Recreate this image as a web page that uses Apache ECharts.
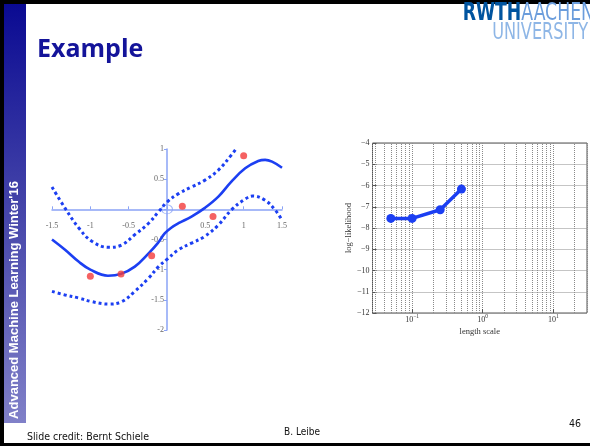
<!DOCTYPE html>
<html>
<head>
<meta charset="utf-8">
<script src="https://cdn.jsdelivr.net/npm/echarts@6/dist/echarts.min.js"></script>
<style>
  html, body { margin: 0; padding: 0; background: #fff; }
  #slide { width: 590px; height: 446px; }
</style>
</head>
<body>
<div id="slide"></div>
<script>
// ---- GP regression (left panel): posterior mean, +/- 2 sigma band, training points ----
const gpMean = [
  [-1.5, -0.50], [-1.33, -0.67], [-1.15, -0.87], [-1.0, -1.00], [-0.77, -1.10],
  [-0.6, -1.07], [-0.42, -0.95], [-0.24, -0.73], [-0.12, -0.56], [-0.03, -0.40],
  [0.06, -0.30], [0.15, -0.23], [0.32, -0.12], [0.49, 0.02], [0.67, 0.21],
  [0.84, 0.46], [1.02, 0.68], [1.19, 0.80], [1.28, 0.82], [1.37, 0.79], [1.5, 0.69]
];
const gpUpper = [
  [-1.5, 0.37], [-1.33, 0.02], [-1.15, -0.31], [-0.98, -0.53], [-0.76, -0.63],
  [-0.59, -0.59], [-0.42, -0.42], [-0.24, -0.23], [-0.11, -0.04], [0.0, 0.12],
  [0.15, 0.26], [0.32, 0.37], [0.49, 0.48], [0.67, 0.65], [0.84, 0.90], [0.9, 1.0]
];
const gpLower = [
  [-1.5, -1.36], [-1.33, -1.42], [-1.15, -1.47], [-0.98, -1.53], [-0.76, -1.57],
  [-0.59, -1.53], [-0.42, -1.36], [-0.24, -1.14], [-0.11, -0.95], [0.0, -0.83],
  [0.15, -0.67], [0.32, -0.56], [0.49, -0.45], [0.67, -0.26], [0.84, -0.01],
  [1.02, 0.17], [1.12, 0.22], [1.28, 0.15], [1.41, -0.01], [1.5, -0.18]
];
const trainPts = [[-1.0, -1.11], [-0.6, -1.07], [-0.2, -0.77], [0.2, 0.05], [0.6, -0.12], [1.0, 0.89]];
const originMark = [[0, 0]];

// ---- Marginal likelihood vs. kernel length scale (right panel) ----
const lengthScales = [0.05, 0.1, 0.25, 0.5];
const logLik = [-7.55, -7.55, -7.14, -6.17];
// intermediate (2..9 x 10^k) grid positions of the log axis
const logMinorGrid = [0.03, 0.04, 0.05, 0.06, 0.07, 0.08, 0.09,
  0.2, 0.3, 0.4, 0.5, 0.6, 0.7, 0.8, 0.9,
  2, 3, 4, 5, 6, 7, 8, 9, 20];

const BLUE = '#1c3ff2';
const AXIS_BLUE = '#8aa3f6';
const SERIF = '"Liberation Serif", "DejaVu Serif", serif';

// left panel geometry and ranges; the axes cross at the origin
const G0 = { left: 52, top: 149, width: 230, height: 181 };
const X0 = [-1.5, 1.5], Y0 = [-2, 1];
const xAxisShift = -G0.height * (0 - Y0[0]) / (Y0[1] - Y0[0]);
const yAxisShift = -G0.width * (0 - X0[0]) / (X0[1] - X0[0]);

const chart = echarts.init(document.getElementById('slide'), null, { renderer: 'canvas' });

function minusSign(v) { return String(v).replace('-', '\u2212'); }
const hideZero = v => (Math.abs(v) < 1e-9 ? '' : String(v));

chart.setOption({
  animation: false,
  backgroundColor: '#ffffff',
  grid: [
    Object.assign({ containLabel: false }, G0),
    { left: 372.5, top: 143, width: 214.5, height: 170, show: true,
      borderColor: '#555', borderWidth: 1, backgroundColor: 'transparent' }
  ],
  xAxis: [
    {
      type: 'value', gridIndex: 0, min: X0[0], max: X0[1], interval: 0.5,
      position: 'bottom', offset: xAxisShift,
      axisLine: { onZero: false, lineStyle: { color: AXIS_BLUE, width: 1.5 } },
      axisTick: { inside: true, length: 3, lineStyle: { color: AXIS_BLUE } },
      splitLine: { show: false },
      axisLabel: { margin: 13, fontFamily: SERIF, fontSize: 8, color: '#666', formatter: hideZero }
    },
    {
      type: 'log', gridIndex: 1, logBase: 10, min: 0.0275, max: 30,
      axisLine: { show: false },
      axisTick: { inside: true, length: 4, lineStyle: { color: '#555' } },
      splitLine: { show: true, lineStyle: { type: 'dotted', color: '#8a8a8a', width: 1 } },
      axisLabel: {
        margin: 1, fontFamily: SERIF, fontSize: 8, color: '#333',
        showMinLabel: false, showMaxLabel: false,
        formatter: v => {
          const e = Math.log10(v);
          if (Math.abs(e - Math.round(e)) > 1e-6) return '';
          return '{b|10}{s|' + minusSign(Math.round(e)) + '}';
        },
        rich: {
          b: { fontFamily: SERIF, fontSize: 8, color: '#333', lineHeight: 11 },
          s: { fontFamily: SERIF, fontSize: 5.5, color: '#333', lineHeight: 6, verticalAlign: 'top' }
        }
      },
      name: 'length scale', nameLocation: 'middle', nameGap: 14,
      nameTextStyle: { fontFamily: SERIF, fontSize: 8.5, color: '#333' }
    }
  ],
  yAxis: [
    {
      type: 'value', gridIndex: 0, min: Y0[0], max: Y0[1], interval: 0.5,
      position: 'left', offset: yAxisShift,
      axisLine: { onZero: false, lineStyle: { color: AXIS_BLUE, width: 1.5 } },
      axisTick: { length: 3, lineStyle: { color: AXIS_BLUE } },
      splitLine: { show: false },
      axisLabel: { margin: 3, fontFamily: SERIF, fontSize: 8, color: '#666', formatter: hideZero }
    },
    {
      type: 'value', gridIndex: 1, min: -12, max: -4, interval: 1,
      axisLine: { show: false },
      axisTick: { inside: true, length: 4, lineStyle: { color: '#555' } },
      splitLine: { show: true, lineStyle: { type: 'dotted', color: '#8a8a8a', width: 1 } },
      axisLabel: { margin: 3, fontFamily: SERIF, fontSize: 8, color: '#333', formatter: v => minusSign(v) },
      name: 'log\u2212likelihood', nameLocation: 'middle', nameGap: 18, nameRotate: 90,
      nameTextStyle: { fontFamily: SERIF, fontSize: 8.5, color: '#333' }
    }
  ],
  series: [
    {
      type: 'line', xAxisIndex: 0, yAxisIndex: 0, data: gpUpper, smooth: 0.4,
      showSymbol: false, lineStyle: { color: BLUE, width: 3, type: [3, 3], cap: 'butt' }, z: 3
    },
    {
      type: 'line', xAxisIndex: 0, yAxisIndex: 0, data: gpLower, smooth: 0.4,
      showSymbol: false, lineStyle: { color: BLUE, width: 3, type: [3, 3], cap: 'butt' }, z: 3
    },
    {
      type: 'line', xAxisIndex: 0, yAxisIndex: 0, data: gpMean, smooth: 0.4,
      showSymbol: false, lineStyle: { color: BLUE, width: 2.6 }, z: 4
    },
    {
      type: 'scatter', xAxisIndex: 0, yAxisIndex: 0, data: trainPts,
      symbol: 'circle', symbolSize: 7, itemStyle: { color: '#f23b3b' }, z: 5
    },
    {
      type: 'scatter', xAxisIndex: 0, yAxisIndex: 0, data: originMark,
      symbol: 'circle', symbolSize: [11, 9],
      itemStyle: { color: 'rgba(255,255,255,0)', borderColor: AXIS_BLUE, borderWidth: 1 }, z: 2
    },
    {
      type: 'line', xAxisIndex: 1, yAxisIndex: 1,
      data: lengthScales.map((x, i) => [x, logLik[i]]),
      symbol: 'circle', symbolSize: 9, showSymbol: true,
      lineStyle: { color: BLUE, width: 3.5 }, itemStyle: { color: BLUE }, z: 5,
      markLine: {
        silent: true, symbol: 'none', label: { show: false }, animation: false,
        lineStyle: { type: 'dotted', color: '#8a8a8a', width: 1 },
        emphasis: { disabled: true },
        data: logMinorGrid.map(v => ({ xAxis: v }))
      }
    }
  ],
  graphic: [
    // slide frame
    { type: 'rect', left: 0, top: 0, shape: { width: 590, height: 4 }, style: { fill: '#000' }, z: 100 },
    { type: 'rect', left: 0, top: 0, shape: { width: 4, height: 446 }, style: { fill: '#000' }, z: 100 },
    { type: 'rect', left: 0, top: 443, shape: { width: 590, height: 3 }, style: { fill: '#000' }, z: 100 },
    {
      type: 'rect', left: 4, top: 4, shape: { width: 22, height: 419 }, z: 99,
      style: {
        fill: new echarts.graphic.LinearGradient(0, 0, 0, 1, [
          { offset: 0, color: '#0a0a92' },
          { offset: 0.5, color: '#4646aa' },
          { offset: 1, color: '#8080c8' }
        ])
      }
    },
    {
      type: 'text', x: 14.5, y: 300, rotation: Math.PI / 2, z: 101,
      style: {
        text: "Advanced Machine Learning Winter'16", fill: '#ffffff',
        font: 'bold 13px "Liberation Sans", Arial, sans-serif',
        align: 'center', verticalAlign: 'middle'
      }
    },
    {
      type: 'text', x: 37, y: 49.5, z: 101,
      style: {
        text: 'Example', fill: '#14149a',
        font: 'bold 25px "Open Sans", "DejaVu Sans", sans-serif',
        align: 'left', verticalAlign: 'middle'
      }
    },
    {
      type: 'text', x: 594, y: 14, z: 101, scaleX: 0.8,
      style: {
        text: '{a|RWTH}{b|AACHEN}', align: 'right', verticalAlign: 'middle',
        rich: {
          a: { font: 'bold 24px "Liberation Sans Narrow", "DejaVu Sans Condensed", sans-serif', fill: '#00549f' },
          b: { font: '24px "Liberation Sans Narrow", "DejaVu Sans Condensed", sans-serif', fill: '#6b9ddc' }
        }
      }
    },
    {
      type: 'text', x: 588, y: 33, z: 101, scaleX: 0.78,
      style: {
        text: 'UNIVERSITY', align: 'right', verticalAlign: 'middle',
        font: '23px "Liberation Sans Narrow", "DejaVu Sans Condensed", sans-serif', fill: '#8eb6e6'
      }
    },
    {
      type: 'text', x: 27, y: 437, z: 101,
      style: {
        text: 'Slide credit: Bernt Schiele', fill: '#111',
        font: '10.5px "DejaVu Sans Condensed", "DejaVu Sans", sans-serif',
        align: 'left', verticalAlign: 'middle'
      }
    },
    {
      type: 'text', x: 302, y: 432, z: 101,
      style: {
        text: 'B. Leibe', fill: '#111',
        font: '10px "DejaVu Sans Condensed", "DejaVu Sans", sans-serif',
        align: 'center', verticalAlign: 'middle'
      }
    },
    {
      type: 'text', x: 581, y: 424, z: 101,
      style: {
        text: '46', fill: '#111',
        font: '10.5px "DejaVu Sans Condensed", "DejaVu Sans", sans-serif',
        align: 'right', verticalAlign: 'middle'
      }
    }
  ]
});
</script>
</body>
</html>
